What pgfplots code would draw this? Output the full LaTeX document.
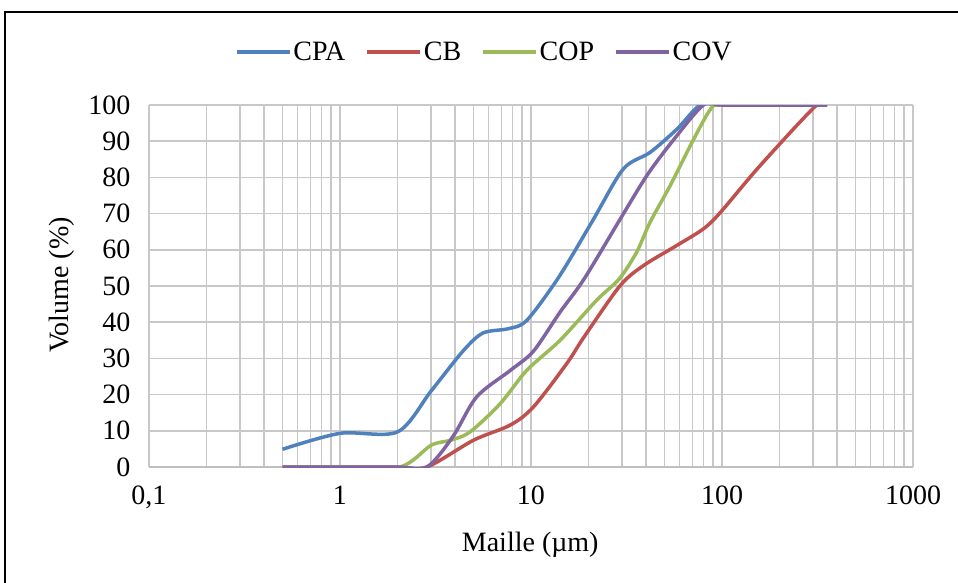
\documentclass[border=0pt]{standalone}
\usepackage{fontspec}
\setmainfont{Liberation Serif}
\usepackage{pgfplots}
\pgfplotsset{compat=1.18}
\definecolor{ccpa}{HTML}{4F81BD}
\definecolor{ccb}{HTML}{C0504D}
\definecolor{ccop}{HTML}{9BBB59}
\definecolor{ccov}{HTML}{8064A2}
\definecolor{gridc}{HTML}{C8C8C8}
\definecolor{axc}{HTML}{BFBFBF}
\newcommand\fs{\fontsize{28pt}{33pt}\selectfont}

\begin{document}
\begin{tikzpicture}[font=\fs]
\useasboundingbox (-149pt,-115pt) rectangle (809pt,467pt);
\draw[line width=1.5pt] (-144pt,-140pt) rectangle (840pt,455pt);
\begin{axis}[
    scale only axis,
    width=764pt, height=362pt,
    at={(0pt,0pt)}, anchor=south west,
    xmode=log, log basis x=10,
    xmin=0.1, xmax=1000,
    ymin=0, ymax=100,
    xtick={0.1,1,10,100,1000},
    xticklabels={{0,1},1,10,100,1000},
    minor xtick={0.2,0.3,0.4,0.5,0.6,0.7,0.8,0.9,2,3,4,5,6,7,8,9,20,30,40,50,60,70,80,90,200,300,400,500,600,700,800,900},
    ytick={0,10,...,100},
    grid=both,
    major grid style={draw=gridc, line width=1.6pt},
    minor grid style={draw=gridc, line width=1.6pt},
    major tick length=0pt, minor tick length=0pt,
    axis lines*=left,
    y axis line style={draw=none},
    x axis line style={draw=axc, line width=1.8pt},
    tick label style={font=\fs},
    /pgf/number format/assume math mode=true,
    xticklabel style={yshift=-15pt},
    yticklabel style={xshift=-15pt},
    xlabel={Maille (µm)},
    ylabel={Volume (\%)},
    label style={font=\fs},
    xlabel style={at={(axis description cs:0.499,-0.215)}, anchor=center},
    ylabel style={at={(axis description cs:-0.114,0.503)}, anchor=center},
    legend style={at={(0.439,1.146)}, anchor=center, draw=none, fill=none,
        legend columns=4, font=\fs,
        /tikz/every even column/.append style={column sep=18pt},
        nodes={inner sep=2pt}},
    legend image code/.code={\draw[#1] (0pt,0pt) -- (53pt,0pt);},
    every axis plot/.append style={line width=3.5pt, smooth, tension=0.5},
]
% CPA
\addplot[color=ccpa] coordinates {
    (0.5,4.9) (1,9.3) (2,9.7) (3,21) (4.4,32) (5.6,37) (7.6,38.2) (9.5,40.5)
    (14,52.5) (21,68) (30.4,82.3) (42,86.9) (58,93.3) (77,100) (100,100) (200,100) (355,100)
};
% CB
\addplot[color=ccb] coordinates {
    (0.5,0) (1,0) (2,0) (2.85,0) (5,7.4) (7.8,11.6) (10.3,16.6) (15.4,28.6) (19,36)
    (29.2,50) (38.7,55.6) (58,61.2) (80,65.8) (98,70.3) (158,83.2) (313,100) (355,100)
};
% COP
\addplot[color=ccop] coordinates {
    (0.5,0) (1,0) (2.06,0) (3,6) (3.8,7.4) (4.8,9.7) (6.9,17.5) (9.5,26.7) (14.2,35)
    (22,46) (29,52) (35.7,59.3) (42,67.6) (53.5,77.7) (71,90.5) (87,98.8) (98,100)
    (200,100) (355,100)
};
% COV
\addplot[color=ccov] coordinates {
    (0.5,0) (1,0) (2,0) (2.85,0) (3.9,8.4) (5.2,19.4) (7.8,26.7) (10.3,32) (14.2,42.8)
    (19,52) (30.5,70) (41,81) (56,90.5) (80,100) (100,100) (200,100) (355,100)
};
\legend{CPA, CB, COP, COV}
\end{axis}
\end{tikzpicture}
\end{document}
